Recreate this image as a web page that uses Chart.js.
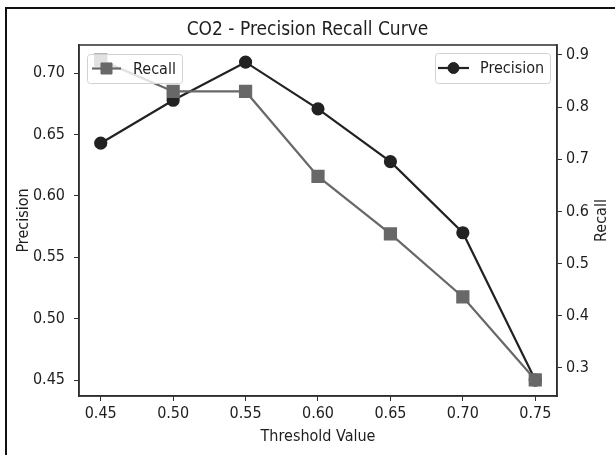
<!DOCTYPE html>
<html>
<head>
<meta charset="utf-8">
<script src="https://cdn.jsdelivr.net/npm/chart.js@4/dist/chart.umd.min.js"></script>
<style>
  html, body { margin: 0; padding: 0; background: #fff; }
  #wrap { position: relative; width: 615px; height: 455px; }
  #frame { position: absolute; left: 5px; top: 7px; width: 700px; height: 600px;
           border-top: 2px solid #111; border-left: 2px solid #111; pointer-events: none; }
</style>
</head>
<body>
<div id="wrap">
  <canvas id="chart" width="615" height="455"></canvas>
  <div id="frame"></div>
</div>
<script>
// values
const thresholds = [0.45, 0.50, 0.55, 0.60, 0.65, 0.70, 0.75];
const precision = [0.643, 0.678, 0.709, 0.671, 0.628, 0.570, 0.450];
const recall = [0.890, 0.830, 0.830, 0.667, 0.557, 0.436, 0.277];

const xTicks = [0.45, 0.50, 0.55, 0.60, 0.65, 0.70, 0.75];
const precisionTicks = [0.45, 0.50, 0.55, 0.60, 0.65, 0.70];
const recallTicks = [0.3, 0.4, 0.5, 0.6, 0.7, 0.8, 0.9];

const FONT = "'DejaVu Sans Condensed', 'DejaVu Sans', sans-serif";
const TEXT = '#1e1e1e';
const AXIS = '#2e2e2e';
const TICK_SIZE = 16;

const toPoints = (ys) => thresholds.map((t, i) => ({ x: t, y: ys[i] }));
const fixTicks = (list) => (scale) => { scale.ticks = list.map(v => ({ value: v })); };

// top spine of the axes box (matplotlib draws all four)
const frameBox = {
  id: 'frameBox',
  afterDraw(chart) {
    const { ctx, chartArea: a } = chart;
    ctx.save();
    ctx.strokeStyle = AXIS;
    ctx.lineWidth = 1.5;
    ctx.strokeRect(a.left, a.top, a.right - a.left, a.bottom - a.top);
    ctx.restore();
  }
};

// right axis label reads bottom-to-top in the original
const rightTitle = {
  id: 'rightTitle',
  afterDraw(chart, args, opts) {
    const { ctx, chartArea: a } = chart;
    ctx.save();
    ctx.translate(opts.x, (a.top + a.bottom) / 2);
    ctx.rotate(-Math.PI / 2);
    ctx.fillStyle = TEXT;
    ctx.font = TICK_SIZE + 'px ' + FONT;
    ctx.textAlign = 'center';
    ctx.textBaseline = 'middle';
    ctx.fillText(opts.text, 0, 0);
    ctx.restore();
  }
};

// two separate legends, like the twin axes in the original
const splitLegend = {
  id: 'splitLegend',
  afterDraw(chart, args, opts) {
    const { ctx } = chart;
    opts.boxes.forEach(b => {
      const ds = chart.data.datasets[b.dataset];
      ctx.save();
      ctx.beginPath();
      ctx.roundRect(b.x + 0.5, b.y + 0.5, b.w, b.h, 3);
      ctx.fillStyle = 'rgba(255,255,255,0.8)';
      ctx.fill();
      ctx.strokeStyle = '#d2d2d2';
      ctx.lineWidth = 1;
      ctx.stroke();
      const cy = b.y + b.h / 2;
      ctx.beginPath();
      ctx.moveTo(b.x + b.lineFrom, cy);
      ctx.lineTo(b.x + b.lineTo, cy);
      ctx.strokeStyle = ds.borderColor;
      ctx.lineWidth = ds.borderWidth;
      ctx.stroke();
      ctx.fillStyle = ds.pointBackgroundColor;
      ctx.strokeStyle = ds.pointBorderColor;
      ctx.lineWidth = 1;
      Chart.helpers.drawPoint(ctx, { pointStyle: ds.pointStyle, radius: ds.pointRadius, rotation: 0, borderWidth: 1 },
        b.x + (b.lineFrom + b.lineTo) / 2, cy);
      ctx.fillStyle = TEXT;
      ctx.font = TICK_SIZE + 'px ' + FONT;
      ctx.textBaseline = 'middle';
      ctx.textAlign = 'left';
      ctx.fillText(ds.label, b.x + b.textAt, cy + 1);
      ctx.restore();
    });
  }
};

new Chart(document.getElementById('chart'), {
  type: 'line',
  data: {
    datasets: [
      {
        label: 'Precision',
        data: toPoints(precision),
        yAxisID: 'y',
        order: 1,
        borderColor: '#222222',
        borderWidth: 2.2,
        pointStyle: 'circle',
        pointRadius: 5.5,
        pointBackgroundColor: '#222222',
        pointBorderColor: '#222222',
        tension: 0
      },
      {
        label: 'Recall',
        data: toPoints(recall),
        yAxisID: 'y1',
        order: 0,
        borderColor: '#686868',
        borderWidth: 2.2,
        pointStyle: 'rect',
        pointRadius: 7.8,
        pointBackgroundColor: '#686868',
        pointBorderColor: '#686868',
        tension: 0
      }
    ]
  },
  options: {
    responsive: false,
    animation: false,
    layout: { padding: 0 },
    plugins: {
      legend: { display: false },
      tooltip: { enabled: false },
      title: {
        display: true,
        text: 'CO2 - Precision Recall Curve',
        color: TEXT,
        font: { family: FONT, size: 19, weight: 'normal', lineHeight: 1.2 },
        padding: { top: 18.6, bottom: 3.6 }
      },
      rightTitle: { text: 'Recall', x: 602 },
      splitLegend: {
        boxes: [
          { dataset: 1, x: 87, y: 54, w: 95, h: 29, lineFrom: 5, lineTo: 34, textAt: 46 },
          { dataset: 0, x: 435, y: 53, w: 115, h: 30, lineFrom: 3, lineTo: 34, textAt: 45 }
        ]
      }
    },
    scales: {
      x: {
        type: 'linear',
        min: 0.435,
        max: 0.765,
        afterBuildTicks: fixTicks(xTicks),
        afterFit: (s) => { s.height = 59; },
        border: { display: true, color: AXIS, width: 1.5 },
        grid: { drawOnChartArea: false, drawTicks: true, tickLength: 5, color: AXIS },
        ticks: { color: TEXT, padding: 3, maxRotation: 0, autoSkip: false,
                 font: { family: FONT, size: TICK_SIZE }, callback: (v) => v.toFixed(2) },
        title: { display: true, text: 'Threshold Value', color: TEXT,
                 font: { family: FONT, size: TICK_SIZE, lineHeight: 1.2 }, padding: { top: 0, bottom: 8.5 } }
      },
      y: {
        position: 'left',
        min: 0.437,
        max: 0.723,
        afterBuildTicks: fixTicks(precisionTicks),
        afterFit: (s) => { s.width = 79; },
        border: { display: true, color: AXIS, width: 1.5 },
        grid: { drawOnChartArea: false, drawTicks: true, tickLength: 5, color: AXIS },
        ticks: { color: TEXT, padding: 9, autoSkip: false,
                 font: { family: FONT, size: TICK_SIZE }, callback: (v) => v.toFixed(2) },
        title: { display: true, text: 'Precision', color: TEXT,
                 font: { family: FONT, size: TICK_SIZE, lineHeight: 1.2 }, padding: { top: 14, bottom: 0 } }
      },
      y1: {
        position: 'right',
        min: 0.246,
        max: 0.919,
        afterBuildTicks: fixTicks(recallTicks),
        afterFit: (s) => { s.width = 58; },
        border: { display: true, color: AXIS, width: 1.5 },
        grid: { drawOnChartArea: false, drawTicks: true, tickLength: 5, color: AXIS },
        ticks: { color: TEXT, padding: 4, autoSkip: false,
                 font: { family: FONT, size: TICK_SIZE }, callback: (v) => v.toFixed(1) },
        title: { display: false }
      }
    }
  },
  plugins: [frameBox, rightTitle, splitLegend]
});
</script>
</body>
</html>
